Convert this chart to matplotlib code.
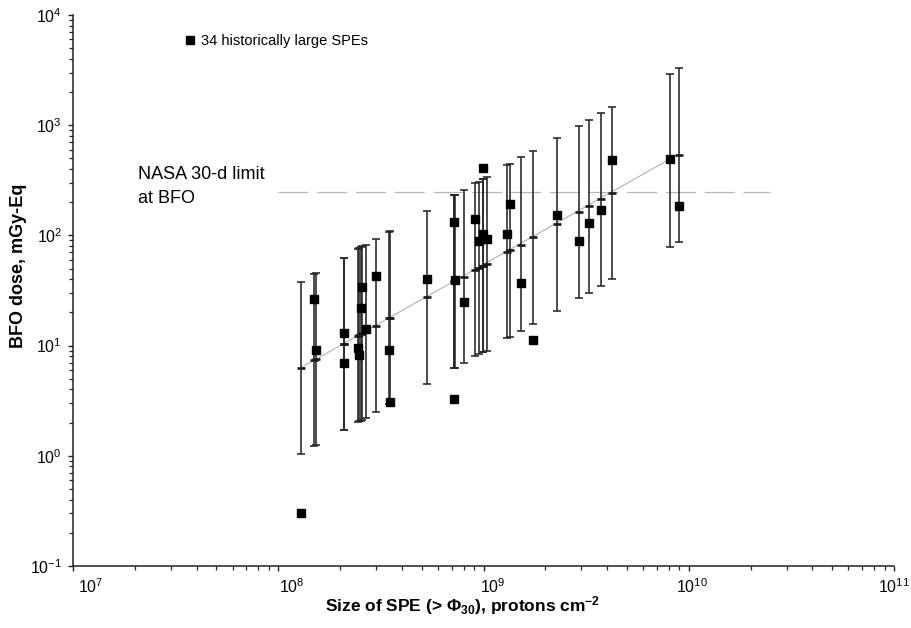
import matplotlib
matplotlib.use("Agg")
import math
import matplotlib.pyplot as plt
from matplotlib.lines import Line2D
from matplotlib.ticker import LogLocator, FuncFormatter, NullFormatter
from matplotlib.transforms import ScaledTranslation

plt.rcParams['font.family'] = ['Liberation Sans', 'DejaVu Sans']
plt.rcParams['mathtext.fontset'] = 'custom'
plt.rcParams['mathtext.rm'] = 'Liberation Sans'
plt.rcParams['mathtext.it'] = 'Liberation Sans:italic'
plt.rcParams['mathtext.bf'] = 'Liberation Sans:bold'
plt.rcParams['mathtext.default'] = 'bf'
plt.rcParams['axes.unicode_minus'] = False

# SPE fluence (> 30 MeV), protons cm^-2
flux = [1.29e8, 1.50e8, 1.53e8, 2.10e8, 2.10e8, 2.45e8, 2.48e8, 2.52e8, 2.57e8, 2.68e8,
        3.00e8, 3.45e8, 3.50e8, 5.28e8, 7.15e8, 7.25e8, 7.20e8, 8.04e8, 9.14e8, 9.55e8,
        9.98e8, 9.98e8, 1.04e9, 1.30e9, 1.35e9, 1.52e9, 1.74e9, 2.28e9, 2.92e9, 3.25e9,
        3.74e9, 4.23e9, 8.10e9, 9.00e9]
# Actual BFO dose of each event, mGy-Eq
dose = [0.30, 26.5, 9.2, 12.9, 6.9, 9.5, 8.2, 22, 34, 14,
        43, 9.1, 3.06, 40.5, 133, 39, 3.26, 24.9, 142, 89.5,
        104, 406, 92, 102, 191, 37, 11.2, 153, 89.5, 130,
        170, 483, 494, 184]
# Predicted median and 90% interval
pred_med = [6.3, 7.4, 7.5, 10.3, 10.3, 12.3, 12.5, 12.7, 13.0, 13.7,
            15.2, 17.7, 17.9, 27.6, 38, 38.5, 38.3, 42, 49, 51,
            53, 53, 55, 71, 73, 82, 96, 127, 164, 185,
            215, 244, 494, 537]
pred_lo = [1.04, 1.23, 1.25, 1.71, 1.71, 2.02, 2.05, 2.08, 2.12, 2.2,
           2.48, 2.95, 3.0, 4.5, 6.2, 6.3, 6.25, 7.0, 8.05, 8.4,
           8.7, 8.7, 9.0, 11.6, 12.0, 13.6, 15.7, 20.7, 27.2, 30,
           35, 40, 79, 88]
pred_hi = [38, 45, 46, 63, 63, 76, 77, 78, 80, 82,
           92, 108, 110, 166, 232, 235, 233, 258, 297, 307,
           325, 325, 341, 435, 445, 511, 587, 765, 990, 1115,
           1300, 1472, 2915, 3285]
# Fitted trend line end points
fit_x = [1.29e8, 8.10e9]
fit_y = [6.3, 494]
# NASA 30-d limit at BFO
limit_dose = 250
limit_x = [1e8, 2.5e10]

W, H = 911, 628
fig = plt.figure(figsize=(W / 100, H / 100), dpi=100)
ax = fig.add_axes([73 / W, 1 - 566 / H, (894 - 73) / W, (566 - 15) / H])

yerr = [[m - l for m, l in zip(pred_med, pred_lo)],
        [h - m for m, h in zip(pred_med, pred_hi)]]
ax.errorbar(flux, pred_med, yerr=yerr, fmt='none', ecolor='#262626',
            elinewidth=1.15, capsize=3, capthick=1.15, zorder=2)
ax.plot(flux, pred_med, ls='none', marker='_', ms=6, mew=1.9, color='#1a1a1a', zorder=3)
ax.plot(fit_x, fit_y, color='#b0b0b0', lw=0.8, zorder=1)
ax.plot(limit_x, [limit_dose, limit_dose], color='#b8b8b8', lw=0.9,
        dashes=(24, 7), zorder=1)
ax.plot(flux, dose, ls='none', marker='s', ms=5.8, color='black', zorder=4)

ax.set_xscale('log')
ax.set_yscale('log')
ax.set_xlim(1e7, 1e11)
ax.set_ylim(1e-1, 1e4)
ax.xaxis.set_major_locator(LogLocator(base=10, numticks=10))
ax.yaxis.set_major_locator(LogLocator(base=10, numticks=10))
ax.xaxis.set_minor_locator(LogLocator(base=10, subs=range(2, 10), numticks=20))
ax.yaxis.set_minor_locator(LogLocator(base=10, subs=range(2, 10), numticks=20))
pow_fmt = FuncFormatter(lambda v, p: r'$\mathrm{10^{%d}}$' % round(math.log10(v)))
ax.xaxis.set_major_formatter(pow_fmt)
ax.yaxis.set_major_formatter(pow_fmt)
ax.xaxis.set_minor_formatter(NullFormatter())
ax.yaxis.set_minor_formatter(NullFormatter())

for s in ['top', 'right']:
    ax.spines[s].set_visible(False)
for s in ['left', 'bottom']:
    ax.spines[s].set_linewidth(1.1)
    ax.spines[s].set_color('#222222')
ax.tick_params(which='major', direction='out', length=3.8, width=1.0, labelsize=11.5,
               color='#222222', pad=4)
ax.tick_params(which='minor', direction='out', length=2.6, width=0.9, color='#222222')

# x tick labels sit a little to the right of their ticks in the original
fig.canvas.draw()
x_shift_px = [19, 18, 14, 9, 3]
for lab, dx in zip(ax.get_xticklabels(), x_shift_px):
    lab.set_transform(lab.get_transform() + ScaledTranslation(dx / 100, 0, fig.dpi_scale_trans))

fig.text(19 / W, 1 - 266 / H, 'BFO dose, mGy-Eq', rotation=90, ha='center', va='center',
         fontsize=13, fontweight='bold')
fig.text(463 / W, 1 - 606 / H,
         r'Size of SPE (> $\Phi_{30}$), protons cm$^{-2}$',
         ha='center', va='center', fontsize=12.5, fontweight='bold')

fig.text(138 / W, 1 - 179 / H, 'NASA 30-d limit', ha='left', va='baseline', fontsize=13)
fig.text(138 / W, 1 - 203 / H, 'at BFO', ha='left', va='baseline', fontsize=13)

handle = Line2D([], [], ls='none', marker='s', ms=5.8, color='black')
ax.legend([handle], ['34 historically large SPEs'], frameon=False, loc='center left',
          bbox_to_anchor=(186 / W, 1 - 41 / H), bbox_transform=fig.transFigure,
          borderpad=0, borderaxespad=0, handlelength=0.55, handletextpad=0.45,
          fontsize=10.5)

fig.savefig('out.png', dpi=100)
